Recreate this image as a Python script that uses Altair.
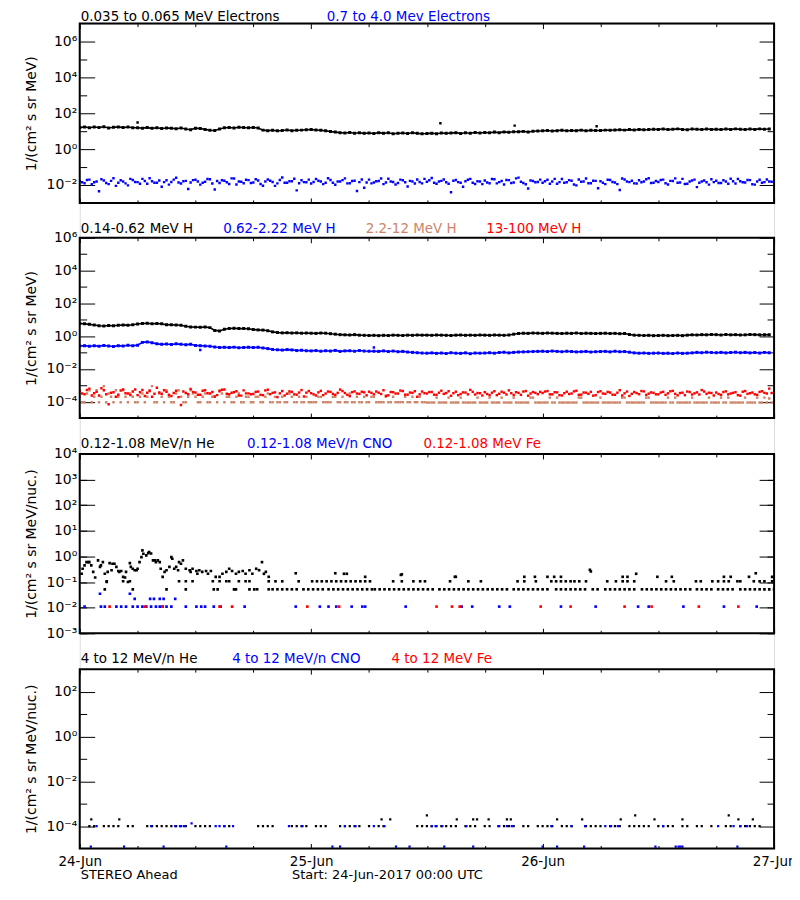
import altair as alt
import pandas as pd

FONT = "DejaVu Sans"
BLACK, BLUE, RED, BROWN = "#000000", "#0000ff", "#ff0000", "#cd8569"

# ---------------- x axis: hours since 24-Jun-2017 00:00 UTC ----------------
day_ticks = [0, 24, 48, 72]
day_labels = ["24-Jun", "25-Jun", "26-Jun", "27-Jun"]
six_hour_ticks = [6, 12, 18, 30, 36, 42, 54, 60, 66]
cadence_hours = [i * 0.5 for i in range(144)]          # 30-minute samples
cadence_hours_b = [i * 0.5 + 0.25 for i in range(144)]  # interleaved samples

# ---------------- panel 1: electrons (log10 flux) ----------------
e_low_log = [
    1.20, 1.24, 1.19, 1.23, 1.21, 1.25, 1.18, 1.22, 1.24, 1.20, 1.23, 1.19,
    1.19, 1.17, 1.20, 1.16, 1.19, 1.15, 1.18, 1.17, 1.14, 1.18, 1.12, 1.08,
    1.17, 1.15, 1.10, 1.05, 1.04, 1.12, 1.19, 1.21, 1.18, 1.22, 1.20, 1.19,
    1.21, 1.18, 1.06, 1.03, 1.05, 1.02, 1.04, 1.07, 1.03, 1.05, 1.06, 1.08,
    1.09, 1.07, 1.05, 1.02, 0.98, 0.95, 0.92, 0.90, 0.93, 0.89, 0.91, 0.88,
    0.90, 0.87, 0.92, 0.88, 0.91, 0.86, 0.89, 0.90, 0.87, 0.91, 0.88, 0.86,
    0.87, 0.89, 0.86, 0.90, 0.88, 0.90, 0.92, 0.87, 0.91, 0.89, 0.93, 0.90,
    0.93, 0.91, 0.95, 0.92, 0.96, 0.94, 0.97, 0.97, 0.99, 0.96, 1.00, 1.01,
    1.02, 1.04, 1.01, 1.03, 1.05, 1.02, 1.04, 1.03, 1.06, 1.02, 1.05, 1.04,
    1.04, 1.06, 1.05, 1.07, 1.08, 1.06, 1.09, 1.07, 1.10, 1.08, 1.09, 1.11,
    1.10, 1.12, 1.09, 1.11, 1.13, 1.10, 1.08, 1.12, 1.11, 1.09, 1.12, 1.10,
    1.11, 1.09, 1.12, 1.10, 1.13, 1.11, 1.09, 1.12, 1.10, 1.13, 1.11, 1.12,
]
e_low_spike_hours = [6.0, 37.4, 45.1, 53.6]
e_low_spike_log = [1.48, 1.44, 1.31, 1.28]

e_high_log = [
    -1.78, -1.90, -1.70, -1.85, -2.35, -1.75, -1.95, -1.62, -1.88, -1.80, -2.02, -1.72,
    -1.84, -1.66, -1.93, -1.79, -1.87, -2.10, -1.74, -1.83, -1.60, -1.92, -1.77, -1.86,
    -1.71, -1.98, -1.82, -1.68, -2.25, -1.89, -1.76, -1.94, -1.64, -1.81, -1.90, -1.73,
    -1.86, -1.75, -2.04, -1.69, -1.83, -1.91, -1.58, -1.87, -1.79, -2.30, -1.74, -1.85,
    -1.92, -1.67, -1.81, -1.88, -1.72, -1.99, -1.80, -1.63, -1.90, -1.76, -1.84, -2.15,
    -1.70, -1.86, -1.78, -1.95, -1.65, -1.83, -1.89, -1.74, -2.08, -1.80, -1.69, -1.91,
    -1.82, -1.61, -1.93, -1.77, -1.85, -2.40, -1.72, -1.88, -1.79, -1.66, -1.94, -1.81,
    -1.75, -1.90, -1.68, -1.84, -1.97, -1.73, -1.86, -1.59, -1.89, -2.20, -1.78, -1.83,
    -1.87, -1.71, -1.80, -1.93, -1.67, -1.85, -1.76, -2.02, -1.82, -1.64, -1.90, -1.77,
    -1.79, -1.95, -1.72, -1.86, -2.28, -1.69, -1.84, -1.91, -1.74, -1.81, -1.62, -1.88,
    -1.83, -1.70, -1.97, -1.78, -1.87, -1.66, -1.93, -1.75, -2.12, -1.80, -1.85, -1.68,
    -1.76, -1.89, -1.81, -1.65, -1.92, -1.79, -1.86, -1.73, -1.98, -1.71, -1.84, -1.80,
]
e_high_log_b = [
    -1.85, -1.72, -1.96, -1.80, -1.68, -1.89, -1.77, -2.05, -1.74, -1.91, -1.66, -1.83,
    -1.93, -1.78, -1.62, -1.87, -1.75, -1.84, -1.98, -1.70, -1.86, -1.79, -2.22, -1.73,
    -1.80, -1.88, -1.67, -1.92, -1.78, -1.74, -1.85, -1.63, -1.97, -1.82, -1.71, -1.89,
    -1.68, -1.94, -1.81, -1.76, -2.05, -1.72, -1.88, -1.79, -1.65, -1.90, -1.84, -1.70,
    -1.83, -1.76, -1.95, -1.62, -1.87, -1.80, -1.73, -1.91, -1.78, -2.33, -1.69, -1.86,
    -1.91, -1.79, -1.64, -1.86, -1.81, -1.97, -1.70, -1.85, -1.77, -1.92, -1.83, -1.66,
    -1.74, -1.88, -1.80, -1.69, -1.93, -1.76, -1.84, -2.10, -1.71, -1.87, -1.79, -1.95,
    -1.86, -1.67, -1.91, -1.78, -1.72, -1.89, -1.63, -1.82, -1.96, -1.75, -1.85, -1.70,
    -1.79, -1.93, -1.66, -1.84, -1.88, -1.73, -1.97, -1.69, -1.81, -1.90, -1.76, -2.18,
    -1.87, -1.71, -1.83, -1.95, -1.64, -1.80, -1.76, -1.92, -1.85, -1.68, -1.89, -1.78,
    -1.72, -1.90, -1.77, -1.63, -1.86, -1.94, -1.81, -1.70, -1.88, -1.75, -1.98, -1.84,
    -1.89, -1.74, -1.93, -1.79, -1.67, -1.85, -1.72, -1.96, -1.80, -1.88, -1.69, -1.82,
]

# ---------------- panel 2: protons (log10 flux) ----------------
h_low_log = [
    0.77, 0.75, 0.72, 0.68, 0.63, 0.62, 0.65, 0.63, 0.66, 0.68, 0.67, 0.70,
    0.74, 0.77, 0.78, 0.76, 0.77, 0.75, 0.70, 0.69, 0.68, 0.66, 0.60, 0.56,
    0.55, 0.54, 0.56, 0.52, 0.35, 0.32, 0.42, 0.47, 0.48, 0.46, 0.47, 0.45,
    0.40, 0.38, 0.37, 0.33, 0.26, 0.22, 0.20, 0.21, 0.19, 0.20, 0.18, 0.19,
    0.18, 0.17, 0.19, 0.18, 0.15, 0.12, 0.09, 0.08, 0.07, 0.09, 0.06, 0.05,
    0.04, 0.05, 0.03, 0.05, 0.04, 0.06, 0.05, 0.04, 0.06, 0.05, 0.07, 0.06,
    0.06, 0.05, 0.07, 0.06, 0.05, 0.04, 0.06, 0.07, 0.05, 0.06, 0.05, 0.07,
    0.06, 0.05, 0.07, 0.06, 0.05, 0.07, 0.12, 0.16, 0.18, 0.17, 0.19, 0.18,
    0.17, 0.19, 0.18, 0.17, 0.16, 0.18, 0.17, 0.19, 0.16, 0.18, 0.17, 0.16,
    0.17, 0.18, 0.16, 0.17, 0.15, 0.16, 0.10, 0.06, 0.05, 0.04, 0.05, 0.03,
    0.04, 0.05, 0.03, 0.04, 0.05, 0.03, 0.06, 0.08, 0.07, 0.09, 0.08, 0.10,
    0.09, 0.07, 0.10, 0.08, 0.09, 0.07, 0.08, 0.10, 0.09, 0.08, 0.09, 0.08,
]
h_mid_log = [
    -0.60, -0.58, -0.62, -0.59, -0.61, -0.57, -0.60, -0.63, -0.58, -0.60, -0.56, -0.59,
    -0.55, -0.38, -0.35, -0.40, -0.47, -0.50, -0.48, -0.51, -0.47, -0.49, -0.52, -0.50,
    -0.57, -0.58, -0.60, -0.62, -0.66, -0.69, -0.68, -0.70, -0.67, -0.71, -0.69, -0.68,
    -0.70, -0.68, -0.72, -0.76, -0.81, -0.83, -0.85, -0.82, -0.84, -0.88, -0.86, -0.89,
    -0.90, -0.88, -0.92, -0.89, -0.91, -0.87, -0.93, -0.90, -0.89, -0.92, -0.88, -0.91,
    -0.92, -0.92, -0.93, -0.90, -0.94, -0.91, -0.95, -0.93, -0.97, -0.99, -1.01, -1.03,
    -1.04, -1.02, -1.05, -1.03, -1.06, -1.01, -1.04, -1.05, -1.02, -1.07, -1.03, -1.04,
    -1.03, -1.01, -1.04, -1.00, -0.98, -1.02, -0.99, -0.97, -0.96, -0.95, -0.94, -0.93,
    -0.92, -0.94, -0.91, -0.93, -0.95, -0.92, -0.94, -0.96, -0.95, -0.93, -0.97, -0.95,
    -0.94, -0.93, -0.96, -0.92, -0.95, -0.94, -0.98, -1.02, -1.04, -1.03, -1.05, -1.04,
    -1.03, -1.05, -1.04, -1.06, -1.03, -1.05, -1.04, -1.02, -0.99, -1.01, -0.98, -1.00,
    -1.01, -0.99, -1.02, -1.00, -0.98, -1.01, -0.99, -1.02, -1.00, -1.03, -0.99, -1.01,
]
h_mid_spike_hours = [12.5, 30.5]
h_mid_spike_log = [-0.85, -0.69]

h_22_12_log = [
    -3.70, -4.03, -3.30, -3.70, -4.03, -3.05, -3.50, -4.03, -3.70, -3.30, -4.03, -3.70,
    -4.03, -3.50, -3.70, -3.05, -4.03, -3.70, -3.30, -4.03, -3.50, -3.70, -4.03, -3.30,
    -3.70, -4.03, -3.50, -4.03, -3.70, -3.30, -4.03, -3.70, -4.03, -3.50, -4.03, -3.70,
    -4.03, -3.70, -4.03, -3.50, -4.03, -4.03, -3.70, -4.03, -3.70, -4.03, -4.03, -3.70,
    -4.03, -4.03, -3.70, -4.03, -4.03, -3.70, -4.03, -4.03, -3.50, -4.03, -4.03, -3.70,
    -4.03, -3.70, -4.03, -4.03, -4.03, -3.70, -4.03, -4.03, -4.03, -3.70, -4.03, -4.03,
    -4.05, -4.05, -3.75, -4.05, -4.05, -4.05, -4.05, -3.75, -4.05, -4.05, -4.05, -4.05,
    -4.05, -3.75, -4.05, -4.05, -4.05, -4.05, -3.75, -4.05, -4.05, -4.05, -3.75, -4.05,
    -4.05, -4.05, -4.05, -3.75, -4.05, -4.05, -4.05, -4.05, -3.75, -4.05, -4.05, -4.05,
    -3.75, -4.05, -4.05, -4.05, -4.05, -3.75, -4.05, -4.05, -4.05, -4.05, -3.75, -4.05,
    -4.05, -4.05, -3.75, -4.05, -4.05, -4.05, -4.05, -3.75, -4.05, -4.05, -4.05, -4.05,
    -4.05, -3.75, -4.05, -4.05, -4.05, -4.05, -3.75, -4.05, -4.05, -4.05, -3.75, -3.80,
]
h_22_12_log_b = [
    -4.03, -3.50, -4.03, -3.30, -3.70, -4.03, -3.70, -3.30, -4.03, -3.70, -3.50, -4.03,
    -3.70, -4.03, -3.30, -4.03, -3.50, -4.03, -3.70, -4.03, -3.30, -4.03, -3.70, -3.50,
    -4.03, -3.70, -4.03, -3.70, -4.03, -3.50, -3.70, -4.03, -3.70, -4.03, -3.70, -4.03,
    -3.70, -4.03, -3.70, -4.03, -3.70, -4.03, -4.03, -3.50, -4.03, -3.70, -4.03, -4.03,
    -4.03, -3.70, -4.03, -4.03, -3.70, -4.03, -3.70, -4.03, -4.03, -3.70, -4.03, -4.03,
    -3.70, -4.03, -4.03, -3.70, -4.03, -4.03, -4.03, -3.70, -4.03, -4.03, -3.70, -4.03,
    -4.05, -4.05, -4.05, -4.05, -3.75, -4.05, -4.05, -4.05, -4.05, -4.05, -3.75, -4.05,
    -4.05, -4.05, -4.05, -3.75, -4.05, -4.05, -4.05, -4.05, -4.05, -3.75, -4.05, -4.05,
    -4.05, -3.75, -4.05, -4.05, -4.05, -4.05, -4.05, -3.75, -4.05, -4.05, -4.05, -4.05,
    -4.05, -4.05, -4.05, -4.05, -3.75, -4.05, -4.05, -4.05, -4.05, -3.75, -4.05, -4.05,
    -4.05, -4.05, -4.05, -3.75, -4.05, -4.05, -4.05, -4.05, -4.05, -4.05, -3.75, -4.05,
    -4.05, -4.05, -3.75, -4.05, -4.05, -4.05, -4.05, -4.05, -3.75, -4.05, -4.05, -4.05,
]
h_13_100_log = [
    -3.35, -3.55, -3.20, -3.48, -3.62, -3.30, -4.15, -3.42, -3.58, -3.25, -3.50, -3.38,
    -3.60, -3.28, -3.45, -3.70, -3.15, -3.52, -3.40, -3.65, -3.33, -4.20, -3.47, -3.22,
    -3.44, -3.58, -3.30, -3.50, -3.68, -3.36, -3.25, -3.55, -3.42, -3.62, -3.31, -3.49,
    -3.53, -3.38, -3.60, -3.27, -3.46, -3.72, -3.35, -3.51, -3.40, -3.57, -3.29, -3.45,
    -3.48, -3.62, -3.34, -3.50, -3.40, -3.58, -3.26, -3.47, -3.66, -3.37, -3.52, -3.43,
    -3.39, -3.55, -3.45, -3.30, -3.61, -3.42, -3.50, -3.35, -3.57, -3.46, -3.70, -3.38,
    -3.50, -3.41, -3.58, -3.33, -3.47, -3.64, -3.39, -3.53, -3.44, -3.28, -3.56, -3.48,
    -3.42, -3.60, -3.36, -3.52, -3.45, -3.31, -3.59, -3.46, -3.38, -3.63, -3.41, -3.54,
    -3.47, -3.35, -3.55, -3.43, -3.62, -3.39, -3.50, -3.33, -3.57, -3.45, -3.40, -3.60,
    -3.36, -3.52, -3.44, -3.58, -3.30, -3.49, -3.65, -3.41, -3.54, -3.37, -3.51, -3.46,
    -3.55, -3.40, -3.49, -3.34, -3.61, -3.45, -3.38, -3.56, -3.43, -3.29, -3.52, -3.47,
    -3.44, -3.58, -3.37, -3.50, -3.42, -3.63, -3.35, -3.48, -3.55, -3.40, -3.46, -3.20,
]
h_13_100_log_b = [
    -3.50, -3.28, -3.62, -3.40, -3.18, -3.55, -3.45, -3.70, -3.32, -3.48, -3.60, -3.25,
    -3.42, -3.65, -3.35, -3.52, -3.44, -3.30, -3.58, -3.47, -3.72, -3.38, -3.55, -3.40,
    -3.57, -3.33, -3.48, -3.41, -3.60, -3.27, -3.52, -3.45, -3.36, -3.63, -3.49, -3.55,
    -3.40, -3.58, -3.31, -3.54, -3.43, -3.49, -3.62, -3.37, -3.55, -3.44, -3.68, -3.35,
    -3.55, -3.43, -3.60, -3.38, -3.52, -3.46, -3.35, -3.58, -3.42, -3.50, -3.39, -3.61,
    -3.46, -3.38, -3.53, -3.64, -3.41, -3.50, -3.32, -3.57, -3.44, -3.36, -3.55, -3.48,
    -3.41, -3.57, -3.45, -3.52, -3.36, -3.48, -3.60, -3.43, -3.55, -3.40, -3.47, -3.62,
    -3.53, -3.45, -3.60, -3.39, -3.56, -3.48, -3.42, -3.58, -3.35, -3.50, -3.46, -3.40,
    -3.38, -3.55, -3.42, -3.60, -3.48, -3.53, -3.37, -3.58, -3.44, -3.52, -3.63, -3.41,
    -3.50, -3.40, -3.57, -3.45, -3.62, -3.38, -3.52, -3.47, -3.35, -3.58, -3.43, -3.55,
    -3.44, -3.58, -3.36, -3.52, -3.47, -3.60, -3.41, -3.49, -3.56, -3.38, -3.45, -3.62,
    -3.53, -3.41, -3.55, -3.46, -3.60, -3.39, -3.52, -3.44, -3.58, -3.36, -3.50, -3.47,
]

# ---------------- panel 3: 0.12-1.08 MeV/n ions ----------------
he_low_hours = [
    0.2, 0.3, 0.5, 0.7, 0.9, 1.0, 1.2, 1.4, 1.6, 1.9, 2.1, 2.2, 2.4, 2.6, 2.8, 2.9, 3.1, 3.3,
    3.4, 3.6, 3.8, 4.0, 4.1, 4.3, 4.5, 4.7, 4.8, 5.0, 5.2, 5.3, 5.5, 5.7, 5.9, 6.0, 6.2, 6.4,
    6.5, 6.6, 6.9, 7.1, 7.2, 7.4, 7.6, 7.8, 7.9, 8.1, 8.3, 8.4, 8.6, 8.8, 9.0, 9.3, 9.5, 9.6,
    9.8, 10.0, 10.2, 10.3, 10.5, 10.7, 11.0, 11.4, 11.5, 11.7, 12.1, 12.2, 12.4, 12.7, 13.1,
    13.3, 13.6, 14.1, 14.5, 14.8, 15.2, 15.5, 15.8, 16.2, 16.5, 16.9, 17.2, 17.6, 17.9, 18.3,
    18.6, 18.9, 19.1, 19.3, 19.6,
    22.4, 26.5, 27.4, 27.7, 29.6, 33.3, 33.4, 38.9, 39.0, 46.1, 47.2, 48.5, 49.2, 49.9, 52.9,
    53.0, 56.3, 56.8, 57.7, 59.9, 61.4, 66.8, 67.5, 69.4, 70.1, 71.8,
]
he_low_vals = [
    0.21, 0.33, 0.45, 0.60, 0.60, 0.60, 0.45, 0.25, 0.15, 0.70, 0.39, 0.45, 0.60, 0.21, 0.10,
    0.25, 0.55, 0.29, 0.52, 0.52, 0.39, 0.27, 0.25, 0.27, 0.16, 0.15, 0.25, 0.10, 0.55, 0.39,
    0.33, 0.29, 0.29, 0.33, 0.60, 0.94, 1.72, 1.27, 1.10, 1.35, 1.48, 1.30, 0.70, 0.70, 0.60,
    0.70, 0.60, 0.33, 0.16, 0.25, 0.29, 0.39, 0.94, 0.81, 0.33, 0.39, 0.29, 0.60, 0.52, 0.70,
    0.33, 0.29, 0.25, 0.33, 0.27, 0.21, 0.29, 0.25, 0.27, 0.21, 0.27, 0.16, 0.16, 0.21, 0.25,
    0.33, 0.27, 0.21, 0.25, 0.27, 0.21, 0.29, 0.21, 0.33, 0.29, 0.60, 0.21, 0.25, 0.16,
    0.22, 0.22, 0.21, 0.21, 0.16, 0.19, 0.20, 0.16, 0.16, 0.16, 0.16, 0.16, 0.16, 0.16, 0.30,
    0.26, 0.16, 0.16, 0.21, 0.16, 0.16, 0.16, 0.16, 0.16, 0.22, 0.16,
]
he_010_hours = [
    2.8, 4.5, 5.2, 10.3, 11.0, 11.7, 13.8, 14.5, 15.2, 15.5, 16.5, 17.2, 17.6, 19.6, 20.3,
    21.0, 22.7, 24.1, 24.6, 25.1, 25.6, 26.1, 26.6, 27.1, 27.6, 28.1, 28.6, 29.1, 29.6, 30.1,
    32.5, 33.4, 34.6, 35.3, 35.8, 38.4, 40.3, 41.6, 45.4, 46.1, 47.3, 48.9, 49.4, 49.9, 50.4,
    50.9, 51.3, 51.8, 52.5, 54.7, 55.6, 56.3, 56.8, 57.5, 60.8, 61.6, 63.9, 64.4, 65.6, 66.2,
    66.8, 67.3, 68.2, 68.5, 69.9, 70.5, 71.0, 71.8,
]
he_005_hours = [
    2.6, 5.5, 9.0, 11.0, 13.9, 14.3, 16.0, 16.2, 17.6, 18.1, 18.4, 19.6, 20.0, 20.5, 21.0,
    21.5, 22.0, 22.5, 23.2, 23.7, 24.2, 24.7, 25.2, 25.8, 26.3, 26.8, 27.3, 27.8, 28.3, 28.8,
    29.3, 29.8, 30.3, 30.6, 31.1, 31.6, 32.1, 32.6, 33.1, 33.6, 34.1, 34.6, 35.1, 35.6, 36.1,
    36.6, 37.3, 37.8, 38.3, 38.8, 39.3, 39.8, 40.3, 40.8, 41.3, 41.8, 42.3, 42.8, 43.3, 43.8,
    44.3, 45.0, 45.5, 46.0, 46.5, 47.0, 47.5, 48.0, 48.5, 49.4, 49.9, 50.4, 50.9, 51.4, 51.9,
    52.4, 53.2, 53.7, 54.5, 55.0, 55.5, 56.0, 56.5, 57.0, 57.5, 58.3, 58.8, 59.3, 59.8, 60.3,
    60.8, 61.3, 61.8, 62.3, 62.8, 63.3, 64.0, 64.5, 65.0, 65.5, 66.2, 66.7, 67.2, 67.7, 68.5,
    69.0, 69.5, 70.0, 70.5, 71.0, 71.5, 72.0,
]
cno_low_hours = [
    0.5, 2.1, 2.2, 2.6, 3.8, 4.3, 4.8, 5.2, 5.5, 5.7, 6.0, 6.5, 6.9, 7.3, 7.4, 7.7, 7.9, 8.3,
    8.3, 8.6, 8.7, 9.0, 9.5, 9.9, 11.0, 12.1, 12.6, 13.0, 13.9, 14.6, 17.1, 22.4, 24.9, 25.8,
    26.6, 28.2, 29.3, 29.6, 33.8, 39.6, 40.7, 43.5, 44.6, 49.9, 53.5, 57.9, 59.0, 62.6, 66.8,
    70.2,
]
cno_low_vals = [
    0.011, 0.035, 0.011, 0.011, 0.011, 0.011, 0.011, 0.035, 0.011, 0.022, 0.011, 0.011, 0.011,
    0.022, 0.011, 0.022, 0.011, 0.022, 0.011, 0.011, 0.022, 0.011, 0.011, 0.022, 0.011, 0.011,
    0.011, 0.011, 0.011, 0.011, 0.011, 0.011, 0.011, 0.011, 0.011, 0.011, 0.011, 0.011, 0.011,
    0.011, 0.011, 0.011, 0.011, 0.011, 0.011, 0.011, 0.011, 0.011, 0.011, 0.011,
]
fe_low_hours = [3.1, 6.8, 8.6, 14.5, 15.8, 23.6, 26.9, 37.0, 38.6, 39.4, 47.8, 50.9, 56.5,
                59.3, 64.2, 68.3]
fe_low_vals = [0.011] * len(fe_low_hours)

# ---------------- panel 4: 4-12 MeV/n ions ----------------
he_high_hours = [
    1.0, 1.5, 2.5, 3.0, 3.5, 4.0, 5.0, 5.5, 7.0, 7.5, 8.0, 8.5, 9.0, 9.5, 10.0, 10.5, 11.0,
    12.0, 12.5, 13.0, 13.5, 15.0, 15.5, 18.5, 19.0, 19.5, 20.0, 22.0, 22.5, 23.0, 23.5, 24.5,
    25.0, 25.5, 27.0, 27.5, 28.0, 28.5, 29.0, 30.0, 31.0, 31.5, 35.0, 35.5, 36.0, 36.5, 37.0,
    37.5, 38.0, 38.5, 39.0, 40.0, 40.5, 41.0, 42.0, 42.5, 43.5, 44.0, 44.5, 45.0, 46.0, 46.5,
    47.5, 48.0, 48.5, 49.0, 50.0, 50.5, 51.0, 52.5, 53.0, 53.5, 54.0, 55.0, 55.5, 56.0, 57.0,
    57.5, 58.0, 58.5, 59.0, 60.0, 60.5, 61.0, 61.5, 62.5, 63.0, 64.0, 64.5, 65.5, 67.0, 67.5,
    68.5, 69.0, 69.5, 70.0, 70.5,
    1.2, 4.1, 31.3, 32.2, 36.0, 39.1, 40.8, 41.2, 42.4, 44.3, 44.7, 49.5, 52.1, 56.1, 57.6,
    59.6, 62.5, 67.3, 68.3, 69.8,
]
he_high_vals = [1.0e-4] * 97 + [
    2.0e-4, 2.0e-4, 2.0e-4, 2.0e-4, 3.0e-4, 2.0e-4, 2.0e-4, 2.0e-4, 2.0e-4, 2.0e-4, 2.0e-4,
    2.0e-4, 2.0e-4, 2.0e-4, 3.0e-4, 2.0e-4, 2.0e-4, 3.0e-4, 2.0e-4, 2.0e-4,
]
cno_high_hours = [
    1.75, 7.4, 9.9, 10.4, 10.8, 11.6, 14.1, 14.5, 15.0, 15.9, 21.7, 23.1, 27.5, 28.6, 30.5,
    31.6, 36.5, 36.9, 37.6, 40.1, 43.4, 44.3, 44.8, 48.9, 51.0, 52.4, 54.5, 55.1, 55.8, 60.5,
    66.2, 67.8, 68.5, 69.2,
    1.15, 4.6, 8.7, 15.2, 26.2, 27.0, 32.8, 34.2, 37.8, 40.8, 48.0, 49.5, 52.3, 59.7, 61.8,
    62.1, 62.3, 62.5, 68.2,
]
cno_high_vals = [1.0e-4] * 5 + [1.3e-4] + [1.0e-4] * 28 + [1.2e-5] * 19

# ---------------- layout (pixels inside the plotting area) ----------------
W, H = 697, 828
PANEL_TOP = [0, 215, 432, 648]
PANEL_BOTTOM = [180, 396, 612, 828]


def frame(hours, values):
    return pd.DataFrame({"h": hours, "v": values})


def from_log(logs):
    return [10.0 ** x for x in logs]


SUP = str.maketrans("0123456789-", "⁰¹²³⁴⁵⁶⁷⁸⁹⁻")


def log_label_expr(exps):
    parts = [f"abs(log(datum.value)/LN10 - ({e})) < 0.01 ? '10{str(e).translate(SUP)}'"
             for e in exps]
    return " : ".join(parts) + " : ''"


def date_label_expr():
    parts = [f"datum.value == {h} ? '{lab}'" for h, lab in zip(day_ticks, day_labels)]
    return " : ".join(parts) + " : ''"


XS = alt.Scale(domain=[0, 72], nice=False, zero=False)
BASE = dict(grid=False, tickColor="black", tickWidth=1,
            labelFont=FONT, labelFontSize=14, labelColor="black")


def ticks_axis(orient, values, size, offset, **kw):
    opts = dict(BASE, domain=False, labels=False, title=None)
    opts.update(kw)
    return alt.Axis(orient=orient, values=values, tickSize=size, offset=offset, **opts)


def make_panel(k, series, yexp, major, minor, ytitle, legend, show_dates):
    top, bot = PANEL_TOP[k], PANEL_BOTTOM[k]
    lo, hi = 10.0 ** yexp[0], 10.0 ** yexp[1]
    ys = alt.Scale(type="log", domain=[lo, hi], range=[bot, top], nice=False)
    layers = []
    for df, color, size, with_line in series:
        enc = dict(x=alt.X("h:Q", scale=XS, axis=None), y=alt.Y("v:Q", scale=ys, axis=None))
        if with_line:
            layers.append(alt.Chart(df).mark_line(color=color, strokeWidth=1.6, clip=True)
                          .encode(**enc))
        layers.append(alt.Chart(df).mark_square(color=color, size=size, opacity=1, clip=True)
                      .encode(**enc))
    # panel frame: the full extent of the panel's x and y domains
    box = pd.DataFrame({"h0": [XS.domain[0]], "h1": [XS.domain[1]], "v0": [lo], "v1": [hi]})
    layers.append(alt.Chart(box).mark_rect(filled=False, stroke="black", strokeWidth=2)
                  .encode(x=alt.X("h0:Q", scale=XS, axis=None), x2="h1:Q",
                          y=alt.Y("v0:Q", scale=ys, axis=None), y2="v1:Q"))
    base = series[0][0]

    def axis_layer(xaxis, yaxis):
        return alt.Chart(base).mark_point(opacity=0).encode(
            x=alt.X("h:Q", scale=XS, axis=xaxis), y=alt.Y("v:Q", scale=ys, axis=yaxis))

    maj = [10.0 ** e for e in major]
    mino = [10.0 ** e for e in minor] if minor else maj
    below = bot - H
    layers.append(axis_layer(
        ticks_axis("bottom", day_ticks, 5, below - 5, labels=show_dates,
                   labelExpr=date_label_expr(), labelFlush=False, labelOverlap=False,
                   labelPadding=6, labelFontSize=13.5),
        ticks_axis("left", maj, 15, -15, labels=True, labelExpr=log_label_expr(major),
                   labelPadding=3, labelOverlap=False, labelFlush=False, title=ytitle,
                   titleFont=FONT, titleFontSize=14, titleFontWeight="normal",
                   titleColor="black", titlePadding=8)))
    layers.append(axis_layer(ticks_axis("top", day_ticks, 5, -(top + 5)),
                             ticks_axis("right", maj, 15, -15)))
    layers.append(axis_layer(ticks_axis("bottom", six_hour_ticks, 3, below - 3),
                             ticks_axis("left", mino, 7, -7)))
    layers.append(axis_layer(ticks_axis("top", six_hour_ticks, 3, -(top + 3)),
                             ticks_axis("right", mino, 7, -7)))
    for txt, color, xpos, ypos, fsize in legend:
        layers.append(alt.Chart(pd.DataFrame({"label": [txt]})).mark_text(
            align="left", baseline="middle", font=FONT, fontSize=fsize, color=color
        ).encode(text="label:N", x=alt.value(xpos), y=alt.value(ypos)))
    return layers


layers = []
layers += make_panel(
    0,
    [(frame(cadence_hours, from_log(e_low_log)), BLACK, 9, True),
     (frame(e_low_spike_hours, from_log(e_low_spike_log)), BLACK, 6, False),
     (frame(cadence_hours, from_log(e_high_log)), BLUE, 6, False),
     (frame(cadence_hours_b, from_log(e_high_log_b)), BLUE, 6, False)],
    (-3, 7), [6, 4, 2, 0, -2], [5, 3, 1, -1], "1/(cm² s sr MeV)",
    [("0.035 to 0.065 MeV Electrons", BLACK, 1, -7, 13.5),
     ("0.7 to 4.0 Mev Electrons", BLUE, 248, -7, 13.5)], False)

layers += make_panel(
    1,
    [(frame(cadence_hours, from_log(h_low_log)), BLACK, 9, True),
     (frame(cadence_hours, from_log(h_mid_log)), BLUE, 9, True),
     (frame(h_mid_spike_hours, from_log(h_mid_spike_log)), BLUE, 6, False),
     (frame(cadence_hours, from_log(h_22_12_log)), BROWN, 6, False),
     (frame(cadence_hours_b, from_log(h_22_12_log_b)), BROWN, 6, False),
     (frame(cadence_hours, from_log(h_13_100_log)), RED, 6, False),
     (frame(cadence_hours_b, from_log(h_13_100_log_b)), RED, 6, False)],
    (-5, 6), [6, 4, 2, 0, -2, -4], [5, 3, 1, -1, -3], "1/(cm² s sr MeV)",
    [("0.14-0.62 MeV H", BLACK, 1, 206, 13.5), ("0.62-2.22 MeV H", BLUE, 144, 206, 13.5),
     ("2.2-12 MeV H", BROWN, 287, 206, 13.5), ("13-100 MeV H", RED, 408, 206, 13.5)], False)

layers += make_panel(
    2,
    [(frame(he_low_hours, he_low_vals), BLACK, 7, False),
     (frame(he_010_hours, [0.107] * len(he_010_hours)), BLACK, 7, False),
     (frame(he_005_hours, [0.052] * len(he_005_hours)), BLACK, 7, False),
     (frame(cno_low_hours, cno_low_vals), BLUE, 7, False),
     (frame(fe_low_hours, fe_low_vals), RED, 7, False)],
    (-3, 4), [4, 3, 2, 1, 0, -1, -2, -3], [], "1/(cm² s sr MeV/nuc.)",
    [("0.12-1.08 MeV/n He", BLACK, 1, 422, 13.5),
     ("0.12-1.08 MeV/n CNO", BLUE, 168, 422, 13.5),
     ("0.12-1.08 MeV Fe", RED, 345, 422, 13.5)], False)

layers += make_panel(
    3,
    [(frame(he_high_hours, he_high_vals), BLACK, 5, False),
     (frame(cno_high_hours, cno_high_vals), BLUE, 5, False)],
    (-5, 3), [2, 0, -2, -4], [1, -1, -3], "1/(cm² s sr MeV/nuc.)",
    [("4 to 12 MeV/n He", BLACK, 1, 638, 13.5), ("4 to 12 MeV/n CNO", BLUE, 153, 638, 13.5),
     ("4 to 12 MeV Fe", RED, 313, 638, 13.5),
     ("STEREO Ahead", BLACK, 1, 855, 13),
     ("Start: 24-Jun-2017 00:00 UTC", BLACK, 213, 855, 13)], True)

chart = (alt.layer(*layers)
         .resolve_scale(y="independent")
         .resolve_axis(x="independent", y="independent")
         .properties(width=W, height=H,
                     autosize=alt.AutoSizeParams(type="none"),
                     padding={"left": 72, "top": 14, "right": 18, "bottom": 32})
         .configure_view(stroke="transparent")
         .configure(background="white"))

chart.save("out.html", embed_options={"renderer": "svg", "actions": False})
